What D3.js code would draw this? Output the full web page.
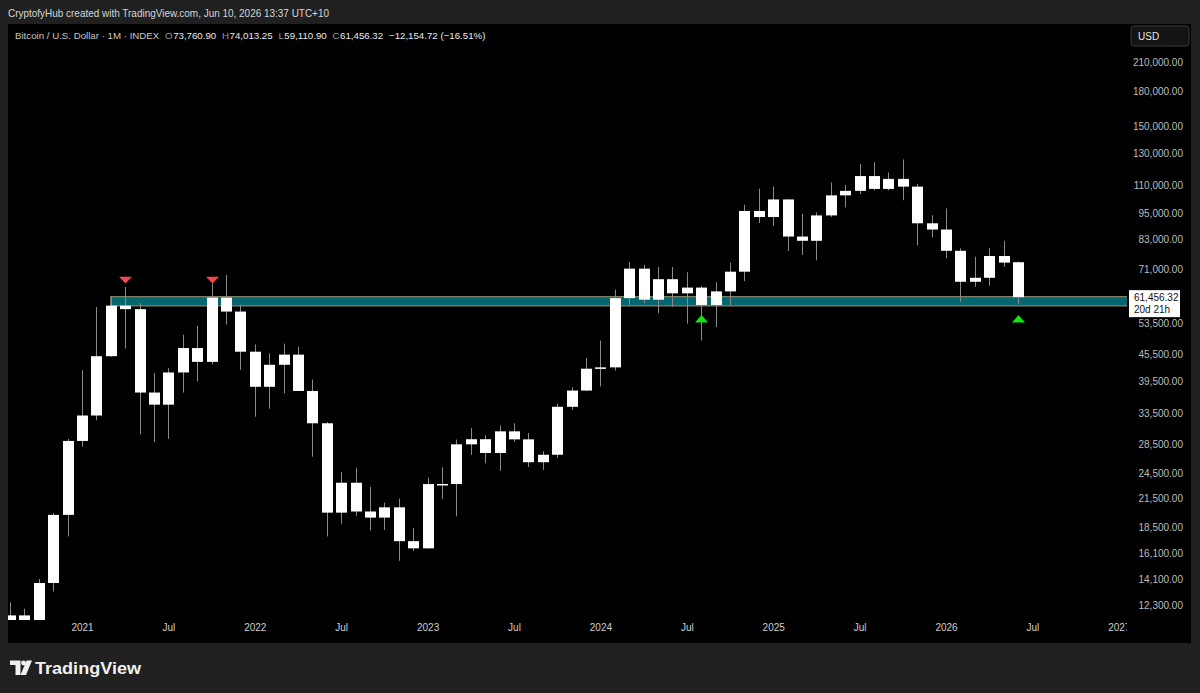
<!DOCTYPE html>
<html>
<head>
<meta charset="utf-8">
<script src="https://cdn.jsdelivr.net/npm/d3@7"></script>
<style>
html,body{margin:0;padding:0;background:#202020;overflow:hidden;}
svg{display:block;}
</style>
</head>
<body>
<svg id="chart" width="1200" height="693"></svg>
<script>
// ---------- DATA ----------
const months = ["2020-08","2020-09","2020-10","2020-11","2020-12",
"2021-01","2021-02","2021-03","2021-04","2021-05","2021-06","2021-07","2021-08","2021-09","2021-10","2021-11","2021-12",
"2022-01","2022-02","2022-03","2022-04","2022-05","2022-06","2022-07","2022-08","2022-09","2022-10","2022-11","2022-12",
"2023-01","2023-02","2023-03","2023-04","2023-05","2023-06","2023-07","2023-08","2023-09","2023-10","2023-11","2023-12",
"2024-01","2024-02","2024-03","2024-04","2024-05","2024-06","2024-07","2024-08","2024-09","2024-10","2024-11","2024-12",
"2025-01","2025-02","2025-03","2025-04","2025-05","2025-06","2025-07","2025-08","2025-09","2025-10","2025-11","2025-12",
"2026-01","2026-02","2026-03","2026-04","2026-05","2026-06"];
const open  = [11335,11650,10780,13800,19700,
28990,33110,45140,58790,57720,37330,35040,41460,47100,43820,61300,57000,
46210,38470,43160,45510,37640,31790,19930,23300,20050,19420,20490,17170,
16540,23140,23150,28480,29250,27220,30480,29230,25940,26970,34650,37720,
42280,42580,61130,71330,60640,67500,62700,64600,58970,63330,70200,96400,
93400,102400,84350,82500,94200,104600,107100,115700,108200,114000,109500,90400,
87500,78300,66600,68000,76200,73760.90];
const high  = [12470,12070,14100,19900,29300,
41950,58350,61780,64850,59600,41330,42400,50500,52920,66000,69000,59100,
47990,45820,48200,47440,39980,31990,24650,25200,22800,21000,21450,18400,
23950,25250,29200,31000,29850,31450,31800,30230,27480,35200,38400,44700,
48970,63900,73800,72800,71950,71950,70000,65100,66500,73600,99600,108300,
109600,102500,95000,95700,111900,110500,123200,124400,117900,126200,111000,94300,
97700,79300,75900,79500,82500,74013.25];
const low   = [10540,9860,10380,13200,17600,
28130,32300,45000,47000,30000,28800,29300,37330,39600,43280,53250,42000,
32900,34300,37200,37600,26700,17600,18800,19600,18150,18200,15500,16300,
16500,21400,19550,26950,25800,24800,28860,25300,24900,26550,34100,37620,
38550,41880,59000,59600,56500,58400,53500,49000,52550,58900,66800,90500,
89200,78200,76600,74500,93400,98200,105300,107300,107300,102000,80600,84000,
75300,60000,64900,65200,72000,59110.90];
const close = [11650,10780,13800,19700,28990,
33110,45140,58790,57720,37330,35040,41460,47100,43820,61300,57000,46210,
38470,43160,45510,37640,31790,19930,23300,20050,19420,20490,17170,16540,
23140,23150,28480,29250,27220,30480,29230,25940,26970,34650,37720,42280,
42580,61130,71330,60640,67500,62700,64600,58970,63330,70200,96400,93400,
102400,84350,82500,94200,104600,107100,115700,108200,114000,109500,90400,87500,
78300,66600,68000,76200,73611.04,61456.32];

const priceTicks = [210000,180000,150000,130000,110000,95000,83000,71000,53500,45500,39500,33500,28500,24500,21500,18500,16100,14100,12300];
const timeTickIdx = [5,11,17,23,29,35,41,47,53,59,65,71,77];
const timeTickLabels = ["2021","Jul","2022","Jul","2023","Jul","2024","Jul","2025","Jul","2026","Jul","2027"];

// support zone (price range) starting at Mar 2021
const zoneStartIdx = 7;
const zoneLow = 58700, zoneHigh = 61600;
// markers
const redMarkerIdx = [8, 14];
const redMarkerTip = 66040, redMarkerBase = 68400;
const greenMarkerIdx = [48, 70];
const greenMarkerTip = 55950, greenMarkerBase = 53800;

const lastPrice = 61456.32;
const countdown = "20d 21h";

// ---------- LAYOUT ----------
const svg = d3.select("#chart");
const panel = {x0:8, y0:24, x1:1191, y1:643};
const plot = {x0:8, y0:24, x1:1127, y1:620};
const FONT = "Liberation Sans, Arial, sans-serif";

const x = d3.scaleLinear().domain([5,65]).range([82,946]);
const y = d3.scaleLog().domain([210000,12300]).range([62,605]);
const bodyW = 11;

svg.append("rect").attr("x",0).attr("y",0).attr("width",1200).attr("height",693).attr("fill","#202020");
svg.append("rect").attr("x",panel.x0).attr("y",panel.y0).attr("width",panel.x1-panel.x0).attr("height",panel.y1-panel.y0).attr("fill","#000000");

const defs = svg.append("defs");
defs.append("clipPath").attr("id","plotClip").append("rect")
  .attr("x",plot.x0).attr("y",plot.y0).attr("width",plot.x1-plot.x0).attr("height",plot.y1-plot.y0);
defs.append("clipPath").attr("id","timeClip").append("rect")
  .attr("x",plot.x0).attr("y",plot.y1).attr("width",plot.x1-plot.x0).attr("height",panel.y1-plot.y1);

// header
svg.append("text").attr("x",8).attr("y",17)
  .attr("font-family",FONT).attr("font-size",11)
  .attr("fill","#d6d6d6").attr("textLength",321).attr("lengthAdjust","spacingAndGlyphs")
  .text("CryptofyHub created with TradingView.com, Jun 10, 2026 13:37 UTC+10");

const fmt = d3.format(",.2f");
const last = close.length-1;
const chg = close[last]-close[last-1];
const pct = chg/close[last-1]*100;
const legendItems = [
  {t:"Bitcoin / U.S. Dollar \u00b7 1M \u00b7 INDEX", c:"#c8c8c8", gap:6},
  {t:"O", c:"#9a9a9a", gap:0.5}, {t:fmt(open[last]), c:"#e8e8e8", gap:6},
  {t:"H", c:"#9a9a9a", gap:0.5}, {t:fmt(high[last]), c:"#e8e8e8", gap:6},
  {t:"L", c:"#9a9a9a", gap:0.5}, {t:fmt(low[last]), c:"#e8e8e8", gap:6},
  {t:"C", c:"#9a9a9a", gap:0.5}, {t:fmt(close[last]), c:"#e8e8e8", gap:6},
  {t:"\u2212"+fmt(Math.abs(chg))+" (\u2212"+Math.abs(pct).toFixed(2)+"%)", c:"#e8e8e8", gap:0}
];
const legendG = svg.append("g");
const legendTexts = legendItems.map(p=>legendG.append("text").attr("y",39).attr("font-family",FONT)
  .attr("fill",p.c).text(p.t));
function layoutLegend(fs){
  let cx = 15;
  legendTexts.forEach((t,i)=>{
    t.attr("font-size",fs).attr("x",cx);
    cx += t.node().getComputedTextLength() + legendItems[i].gap*fs/10;
  });
  return cx-15;
}
let total = layoutLegend(10);
layoutLegend(10*471/total);

// USD box
svg.append("rect").attr("x",1131).attr("y",26).attr("width",58).attr("height",20).attr("rx",3)
  .attr("fill","#141414").attr("stroke","#3a3a3a");
svg.append("text").attr("x",1138).attr("y",40).attr("font-family",FONT)
  .attr("font-size",10).attr("fill","#e6e6e6").text("USD");

// price axis
const yAxis = d3.axisLeft(y).tickValues(priceTicks).tickFormat(fmt).tickSize(0).tickPadding(0);
const gy = svg.append("g").attr("transform","translate(1183,0)").call(yAxis);
gy.select(".domain").remove();
gy.selectAll("text").attr("font-family",FONT).attr("font-size",10).attr("fill","#bdbdbd");

// time axis
const xAxis = d3.axisBottom(x).tickValues(timeTickIdx).tickFormat((d,i)=>timeTickLabels[i]).tickSize(0).tickPadding(0);
const gx = svg.append("g").attr("clip-path","url(#timeClip)").append("g").attr("transform","translate(0,624)").call(xAxis);
gx.select(".domain").remove();
gx.selectAll("text").attr("font-family",FONT).attr("font-size",10).attr("fill","#cfcfcf");

// plot
const gp = svg.append("g").attr("clip-path","url(#plotClip)");

// zone
gp.append("rect").attr("x",x(zoneStartIdx)).attr("y",y(zoneHigh))
  .attr("width",1128-x(zoneStartIdx)).attr("height",y(zoneLow)-y(zoneHigh))
  .attr("fill","#05666f").attr("stroke","#9c9670").attr("stroke-width",1);

const idx = d3.range(months.length);
// wicks
gp.selectAll("line.wick").data(idx).join("line").attr("class","wick")
  .attr("x1",i=>Math.round(x(i))+0.5).attr("x2",i=>Math.round(x(i))+0.5)
  .attr("y1",i=>y(high[i])).attr("y2",i=>y(low[i]))
  .attr("stroke","#8a8a8a").attr("stroke-width",1);
// bodies
gp.selectAll("rect.body").data(idx).join("rect").attr("class","body")
  .attr("x",i=>Math.round(x(i))+0.5-bodyW/2).attr("width",bodyW)
  .attr("y",i=>y(Math.max(open[i],close[i])))
  .attr("height",i=>Math.max(1.5,Math.abs(y(open[i])-y(close[i]))))
  .attr("fill","#ffffff");

// markers
const tri = (cx,yTip,yBase)=>{
  const hw=6.5;
  return `M${cx-hw},${yBase}L${cx+hw},${yBase}L${cx},${yTip}Z`;
};
gp.selectAll("path.red").data(redMarkerIdx).join("path").attr("class","red")
  .attr("d",i=>tri(Math.round(x(i))+0.5,y(redMarkerTip),y(redMarkerBase))).attr("fill","#f24a4a");
gp.selectAll("path.green").data(greenMarkerIdx).join("path").attr("class","green")
  .attr("d",i=>tri(Math.round(x(i))+0.5,y(greenMarkerTip),y(greenMarkerBase))).attr("fill","#11e611");

// last price tag
const ty = y(lastPrice);
svg.append("rect").attr("x",1129).attr("y",ty-7).attr("width",51).attr("height",27).attr("fill","#ffffff");
svg.append("text").attr("x",1134).attr("y",ty+3.5).attr("font-family",FONT)
  .attr("font-size",10).attr("fill","#111").text(fmt(lastPrice));
svg.append("text").attr("x",1134).attr("y",ty+16).attr("font-family",FONT)
  .attr("font-size",10).attr("fill","#111").text(countdown);

// TradingView logo
const logo = svg.append("g").attr("fill","#f0f0f0");
logo.append("path").attr("d","M10,660.5H20.5V675H15.5V665H10Z");
logo.append("circle").attr("cx",23.5).attr("cy",663).attr("r",2.4);
logo.append("path").attr("d","M26.5,660.5H32L26,675H20.5Z");
svg.append("text").attr("x",35).attr("y",674).attr("font-family",FONT)
  .attr("font-size",17).attr("font-weight","bold").attr("fill","#f0f0f0")
  .attr("textLength",106).attr("lengthAdjust","spacingAndGlyphs").text("TradingView");
</script>
</body>
</html>
